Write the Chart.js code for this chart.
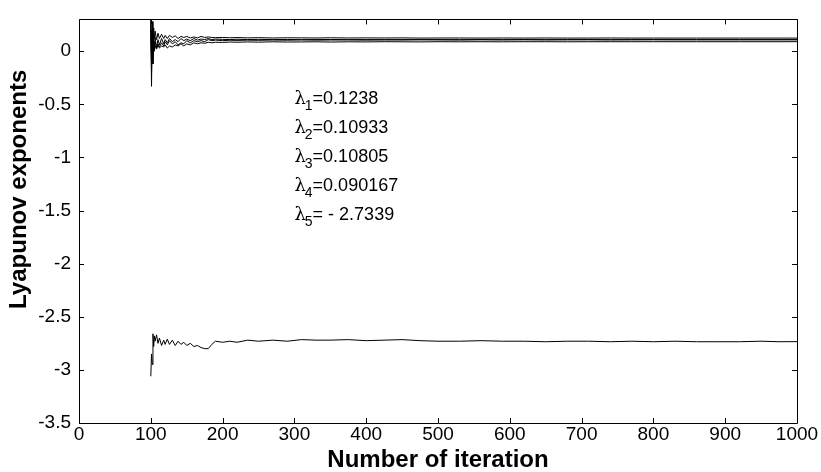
<!DOCTYPE html>
<html>
<head>
<meta charset="utf-8">
<script src="https://cdn.jsdelivr.net/npm/chart.js@4.4.1/dist/chart.umd.min.js"></script>
<style>
  html, body { margin: 0; padding: 0; background: #fff; }
  #wrap { position: relative; width: 821px; height: 472px; }
  canvas { display: block; }
</style>
</head>
<body>
<div id="wrap"><canvas id="c" width="821" height="472"></canvas></div>
<script>
// Iteration numbers at which the exponents were sampled
const iterations = [100,101,102,103,104,105,106,108,110,112,115,118,120,123,126,130,134,138,142,146,150,155,160,165,170,175,180,185,190,200,210,220,235,250,270,290,310,330,350,375,400,425,450,475,500,530,560,590,620,650,680,710,740,770,800,830,860,890,920,950,975,1000];

// Running estimates of the five Lyapunov exponents
const lambda1 = [0.32,-0.05,0.28,0.06,0.22,0.12,0.19,0.11,0.17,0.12,0.16,0.12,0.15,0.12,0.15,0.13,0.145,0.12,0.14,0.13,0.14,0.125,0.135,0.125,0.14,0.13,0.135,0.13,0.128,0.13,0.127,0.129,0.126,0.128,0.125,0.127,0.126,0.125,0.127,0.125,0.126,0.125,0.126,0.124,0.125,0.125,0.124,0.125,0.124,0.125,0.124,0.124,0.125,0.124,0.124,0.124,0.124,0.124,0.124,0.124,0.124,0.1238];
const lambda2 = [0.3,-0.33,0.2,-0.12,0.15,0.0,0.13,0.03,0.11,0.06,0.12,0.07,0.11,0.08,0.12,0.09,0.11,0.09,0.12,0.1,0.115,0.1,0.12,0.105,0.115,0.11,0.12,0.11,0.115,0.112,0.11,0.113,0.11,0.112,0.11,0.111,0.109,0.11,0.111,0.109,0.11,0.109,0.11,0.109,0.11,0.109,0.11,0.109,0.11,0.109,0.109,0.11,0.109,0.109,0.11,0.109,0.109,0.109,0.109,0.109,0.109,0.10933];
const lambda3 = [0.25,-0.2,0.1,-0.05,0.08,0.02,0.09,0.03,0.07,0.04,0.08,0.05,0.09,0.06,0.1,0.07,0.09,0.06,0.08,0.07,0.1,0.08,0.1,0.09,0.1,0.09,0.11,0.1,0.105,0.1,0.104,0.102,0.105,0.103,0.106,0.104,0.107,0.105,0.106,0.107,0.105,0.107,0.106,0.108,0.107,0.106,0.108,0.107,0.108,0.107,0.108,0.108,0.107,0.108,0.108,0.108,0.108,0.108,0.108,0.108,0.108,0.10805];
const lambda4 = [0.2,-0.1,0.05,-0.02,0.06,0.01,0.05,0.02,0.06,0.03,0.05,0.04,0.06,0.03,0.05,0.04,0.06,0.05,0.07,0.05,0.07,0.06,0.08,0.07,0.08,0.075,0.085,0.08,0.085,0.083,0.087,0.085,0.088,0.086,0.089,0.087,0.088,0.089,0.087,0.089,0.088,0.09,0.089,0.088,0.09,0.089,0.09,0.089,0.09,0.09,0.089,0.09,0.09,0.09,0.09,0.09,0.09,0.09,0.09,0.09,0.09,0.090167];
const lambda5 = [-3.06,-2.85,-2.95,-2.66,-2.78,-2.68,-2.73,-2.67,-2.75,-2.7,-2.77,-2.72,-2.76,-2.71,-2.76,-2.72,-2.77,-2.73,-2.76,-2.74,-2.77,-2.75,-2.78,-2.77,-2.79,-2.8,-2.8,-2.76,-2.73,-2.74,-2.73,-2.74,-2.72,-2.73,-2.72,-2.73,-2.715,-2.72,-2.72,-2.715,-2.725,-2.72,-2.715,-2.725,-2.73,-2.73,-2.725,-2.73,-2.73,-2.735,-2.73,-2.73,-2.735,-2.73,-2.735,-2.73,-2.735,-2.735,-2.735,-2.73,-2.735,-2.7339];

const xTicks = [0,100,200,300,400,500,600,700,800,900,1000];
const yTicks = [-3.5,-3,-2.5,-2,-1.5,-1,-0.5,0];

const annotations = [
  { sub: '1', text: '=0.1238' },
  { sub: '2', text: '=0.10933' },
  { sub: '3', text: '=0.10805' },
  { sub: '4', text: '=0.090167' },
  { sub: '5', text: '= - 2.7339' }
];

const series = [lambda1, lambda2, lambda3, lambda4, lambda5];
const FONT = 'Arial, "Liberation Sans", Helvetica, sans-serif';

// Box around the plot with inward ticks on all four sides, the y-axis title and the exponent labels
const frame = {
  id: 'frame',
  afterDraw(chart) {
    const { ctx, chartArea: a, scales: { x, y } } = chart;
    const L = 5;
    ctx.save();
    ctx.strokeStyle = '#000';
    ctx.lineWidth = 1;
    ctx.beginPath();
    ctx.rect(Math.round(a.left) + 0.5, Math.round(a.top) + 0.5, Math.round(a.right - a.left), Math.round(a.bottom - a.top));
    xTicks.forEach(v => {
      const px = Math.round(x.getPixelForValue(v)) + 0.5;
      ctx.moveTo(px, a.bottom); ctx.lineTo(px, a.bottom - L);
      ctx.moveTo(px, a.top); ctx.lineTo(px, a.top + L);
    });
    yTicks.forEach(v => {
      const py = Math.round(y.getPixelForValue(v)) + 0.5;
      ctx.moveTo(a.left, py); ctx.lineTo(a.left + L, py);
      ctx.moveTo(a.right, py); ctx.lineTo(a.right - L, py);
    });
    ctx.stroke();

    // y-axis title, rotated
    ctx.save();
    ctx.translate(19, y.getPixelForValue(-1.3));
    ctx.rotate(-Math.PI / 2);
    ctx.fillStyle = '#000';
    ctx.font = 'bold 24px ' + FONT;
    ctx.textAlign = 'center';
    ctx.textBaseline = 'middle';
    ctx.fillText('Lyapunov exponents', 0, 0);
    ctx.restore();

    // exponent values written inside the axes
    ctx.fillStyle = '#000';
    ctx.textBaseline = 'alphabetic';
    const x0 = x.getPixelForValue(300);
    annotations.forEach((an, i) => {
      const base = y.getPixelForValue(-0.50 - i * 0.272);
      ctx.font = '18px "DejaVu Serif", serif';
      ctx.fillText('\u03bb', x0, base);
      const w = ctx.measureText('\u03bb').width;
      ctx.font = '14px ' + FONT;
      ctx.fillText(an.sub, x0 + w - 1, base + 6);
      const ws = ctx.measureText(an.sub).width;
      ctx.font = '18px ' + FONT;
      ctx.fillText(an.text, x0 + w + ws - 1, base);
    });
    ctx.restore();
  }
};

new Chart(document.getElementById('c'), {
  type: 'line',
  data: {
    datasets: series.map((vals, k) => ({
      label: 'lambda' + (k + 1),
      data: iterations.map((it, i) => ({ x: it, y: vals[i] })),
      borderColor: '#000',
      borderWidth: 1,
      pointRadius: 0,
      tension: 0,
      fill: false
    }))
  },
  options: {
    responsive: false,
    animation: false,
    layout: { padding: { top: 10, right: 24, left: 0, bottom: 0 } },
    plugins: { legend: { display: false }, tooltip: { enabled: false } },
    scales: {
      x: {
        type: 'linear', min: 0, max: 1000,
        afterBuildTicks: s => { s.ticks = xTicks.map(v => ({ value: v })); },
        afterFit: s => { s.height = 49; },
        grid: { display: false, drawTicks: false },
        border: { display: false },
        ticks: { color: '#000', font: { family: FONT, size: 19, lineHeight: 1 }, padding: 2, maxRotation: 0, callback: v => String(v) },
        title: { display: true, text: 'Number of iteration', color: '#000', font: { family: FONT, size: 24, weight: 'bold', lineHeight: 1 }, padding: { top: 0, bottom: 0 } }
      },
      y: {
        type: 'linear', min: -3.5, max: 0.3,
        afterBuildTicks: s => { s.ticks = yTicks.map(v => ({ value: v })); },
        afterFit: s => { s.width = 79; },
        grid: { display: false, drawTicks: false },
        border: { display: false },
        ticks: { color: '#000', font: { family: FONT, size: 19 }, padding: 8, callback: v => String(v) },
        title: { display: false }
      }
    }
  },
  plugins: [frame]
});
</script>
</body>
</html>
